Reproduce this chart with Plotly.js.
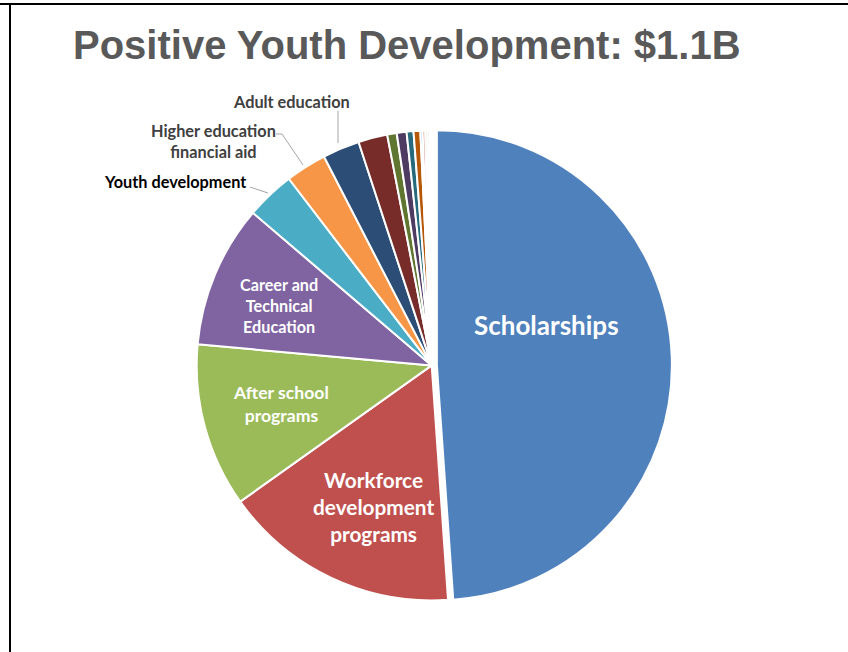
<!DOCTYPE html>
<html>
<head>
<meta charset="utf-8">
<script src="https://cdn.plot.ly/plotly-3.0.1.min.js"></script>
<style>
  html, body { margin: 0; padding: 0; background: #ffffff; }
  #chart { width: 848px; height: 652px; }
</style>
</head>
<body>
<div id="chart"></div>
<script>
// ---- Data (millions of dollars, total ≈ $1.1B) ----
const categories = [
  "Scholarships",
  "Workforce development programs",
  "After school programs",
  "Career and Technical Education",
  "Youth development",
  "Higher education financial aid",
  "Adult education",
  "Other 1", "Other 2", "Other 3", "Other 4", "Other 5",
  "Other 6", "Other 7", "Other 8", "Other 9", "Other 10"
];
const values = [538, 179, 124, 108, 37, 31, 28, 22, 7.2, 7.4, 5.2, 5.1, 1.7, 2.0, 1.7, 1.6, 1.5];
const sliceColors = [
  "#4F81BD", "#C0504D", "#9BBB59", "#8064A2", "#4BACC6", "#F79646",
  "#2C4D75", "#772C2A", "#5F7530", "#4D3B62", "#276A7C", "#B65708",
  "#729ACA", "#CD7371", "#AFC97A", "#A08CB8", "#78C0D4"
];
const pulls = [0.022, 0, 0, 0, 0, 0, 0, 0, 0, 0, 0, 0, 0, 0, 0, 0, 0];
const titleText = "Positive Youth Development: $1.1B";

// ---- helpers: pixel -> paper coordinates (zero margins) ----
const W = 848, H = 652;
const px = x => x / W;
const py = y => 1 - y / H;

const trace = {
  type: "pie",
  labels: categories,
  values: values,
  sort: false,
  direction: "clockwise",
  rotation: 0,
  pull: pulls,
  textinfo: "none",
  hoverinfo: "label+value+percent",
  marker: { colors: sliceColors, line: { color: "#ffffff", width: 2 } },
  domain: { x: [px(191.5), px(671.9)], y: [py(605.6), py(125.2)] },
  showlegend: false
};

const white = "#ffffff";
const gray = "#404040";
const insideLabels = [
  { text: "<b>Scholarships</b>", x: 546, y: 325, size: 26, color: white },
  { text: "<b>Workforce<br>development<br>programs</b>", x: 373, y: 507, size: 20.8, color: white },
  { text: "<b>After school<br>programs</b>", x: 281, y: 404, size: 17.6, color: white },
  { text: "<b>Career and<br>Technical<br>Education</b>", x: 279, y: 306, size: 16.2, color: white },
  { text: "<b>Youth development</b>", x: 175, y: 181, size: 16.3, color: "#000000" },
  { text: "<b>Higher education<br>financial aid</b>", x: 213, y: 141, size: 16.3, color: gray },
  { text: "<b>Adult education</b>", x: 291, y: 101, size: 16.3, color: gray }
];

const annotations = insideLabels.map(l => ({
  text: l.text,
  x: px(l.x), y: py(l.y),
  xref: "paper", yref: "paper",
  xanchor: "center", yanchor: "middle",
  showarrow: false,
  font: { family: "Lato, 'Open Sans', sans-serif", size: l.size, color: l.color }
}));
annotations.push({
  text: "<b>" + titleText + "</b>",
  x: px(407), y: py(44.5),
  xref: "paper", yref: "paper",
  xanchor: "center", yanchor: "middle",
  showarrow: false,
  font: { family: "'Liberation Sans', Arial, sans-serif", size: 40, color: "#595959" }
});

const leader = "#A6A6A6";
const shapes = [
  // frame
  { type: "line", xref: "paper", yref: "paper", x0: 0, x1: 1, y0: py(4), y1: py(4), line: { color: "#000000", width: 2 } },
  { type: "line", xref: "paper", yref: "paper", x0: px(10), x1: px(10), y0: py(3), y1: 0, line: { color: "#000000", width: 2 } },
  // leader lines
  { type: "line", xref: "paper", yref: "paper", x0: px(338), x1: px(338), y0: py(111), y1: py(143), line: { color: leader, width: 1 } },
  { type: "path", xref: "paper", yref: "paper",
    path: `M ${px(276)} ${py(134)} L ${px(282)} ${py(134)} L ${px(303)} ${py(165)}`, line: { color: leader, width: 1 } },
  { type: "line", xref: "paper", yref: "paper", x0: px(250), x1: px(268), y0: py(187), y1: py(193), line: { color: leader, width: 1 } }
];

const layout = {
  width: W, height: H,
  margin: { l: 0, r: 0, t: 0, b: 0 },
  paper_bgcolor: "#ffffff",
  plot_bgcolor: "#ffffff",
  showlegend: false,
  annotations: annotations,
  shapes: shapes
};

Plotly.newPlot("chart", [trace], layout, { displayModeBar: false, staticPlot: true });
</script>
</body>
</html>
